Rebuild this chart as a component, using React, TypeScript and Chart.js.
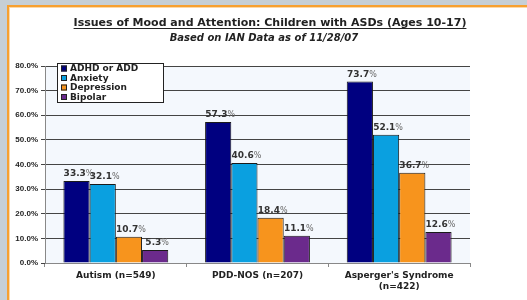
import React, { useEffect, useRef } from 'react';
import { Chart, registerables } from 'chart.js';
Chart.register(...registerables);

const titleText = 'Issues of Mood and Attention: Children with ASDs (Ages 10-17)';
const subtitleText = 'Based on IAN Data as of 11/28/07';
const categories: string[][] = [['Autism (n=549)'], ['PDD-NOS (n=207)'], ["Asperger's Syndrome", '(n=422)']];
const seriesNames = ['ADHD or ADD', 'Anxiety', 'Depression', 'Bipolar'];
const adhd = [33.3, 57.3, 73.7];
const anxiety = [32.1, 40.6, 52.1];
const depression = [10.7, 18.4, 36.7];
const bipolar = [5.3, 11.1, 12.6];
const seriesColors = ['#000080', '#0aa0e0', '#f7941d', '#6b2a8c'];
const yMin = 0;
const yMax = 80;
const yStep = 10;

const FONT = '"Liberation Sans", Arial, sans-serif';
const WIDE = '"DejaVu Sans", Verdana, sans-serif';

const framePlugin = {
  id: 'frame',
  beforeDraw(chart: any) {
    const { ctx, width, height, chartArea } = chart;
    ctx.save();
    ctx.fillStyle = '#ffffff';
    ctx.fillRect(0, 0, width, height);
    ctx.fillStyle = '#c6cfd6';
    ctx.fillRect(0, 0, width, 5);
    ctx.fillRect(0, 0, 7, height);
    ctx.fillStyle = '#f7a030';
    ctx.fillRect(7, 5, width - 7, 2);
    ctx.fillRect(7, 5, 2, height - 5);
    ctx.fillStyle = '#fcd8a8';
    ctx.fillRect(9, 7, width - 9, 1);
    ctx.fillRect(9, 7, 1, height - 7);
    ctx.fillStyle = '#f4f8fd';
    ctx.fillRect(chartArea.left, chartArea.top, chartArea.right - chartArea.left, chartArea.bottom - chartArea.top);
    ctx.restore();
  },
  afterDraw(chart: any) {
    const { ctx } = chart;
    ctx.save();
    // title
    ctx.fillStyle = '#222';
    ctx.textAlign = 'center';
    ctx.textBaseline = 'alphabetic';
    ctx.font = `bold 11px ${WIDE}`;
    const tx = 270;
    ctx.fillText(titleText, tx, 26);
    const tw = ctx.measureText(titleText).width;
    ctx.fillRect(tx - tw / 2, 28, tw, 1);
    ctx.font = `italic bold 10px ${WIDE}`;
    ctx.fillText(subtitleText, 264, 41);

    // legend
    const lx = 57, ly = 63, lw = 106, lh = 39;
    ctx.fillStyle = '#ffffff';
    ctx.fillRect(lx, ly, lw, lh);
    ctx.strokeStyle = '#222';
    ctx.lineWidth = 1;
    ctx.strokeRect(lx + 0.5, ly + 0.5, lw, lh);
    ctx.textAlign = 'left';
    ctx.textBaseline = 'middle';
    ctx.font = `bold 9px ${WIDE}`;
    seriesNames.forEach((name, i) => {
      const cy = ly + 5.5 + i * 9.5;
      ctx.fillStyle = seriesColors[i];
      ctx.fillRect(lx + 4, cy - 3, 6, 6);
      ctx.strokeStyle = '#222';
      ctx.strokeRect(lx + 4.5, cy - 2.5, 5, 5);
      ctx.fillStyle = '#222';
      ctx.fillText(name, lx + 13, cy + 0.5);
    });

    // data labels
    ctx.textBaseline = 'alphabetic';
    chart.data.datasets.forEach((ds: any, di: number) => {
      const meta = chart.getDatasetMeta(di);
      meta.data.forEach((el: any, i: number) => {
        const v = ds.data[i];
        const num = v.toFixed(1);
        ctx.font = `bold 9px ${WIDE}`;
        const nw = ctx.measureText(num).width;
        ctx.font = `8px ${WIDE}`;
        const pw = ctx.measureText('%').width;
        const total = nw + pw;
        const x0 = el.x + 2 - total / 2;
        const y0 = el.y - 5;
        ctx.textAlign = 'left';
        ctx.font = `bold 9px ${WIDE}`;
        ctx.fillStyle = '#333';
        ctx.fillText(num, x0, y0);
        ctx.font = `8px ${WIDE}`;
        ctx.fillStyle = '#666';
        ctx.fillText('%', x0 + nw, y0);
      });
    });
    ctx.restore();
  },
};

export default function App() {
  const ref = useRef<HTMLCanvasElement>(null);
  useEffect(() => {
    document.body.style.margin = '0';
    const seriesData = [adhd, anxiety, depression, bipolar];
    const chart = new Chart(ref.current!, {
      type: 'bar',
      data: {
        labels: categories,
        datasets: seriesNames.map((name, i) => ({
          label: name,
          data: seriesData[i],
          backgroundColor: seriesColors[i],
          borderColor: '#1a1a1a',
          borderWidth: 1,
          categoryPercentage: 0.74,
          barPercentage: 1.0,
        })),
      },
      options: {
        responsive: false,
        animation: false,
        layout: { padding: { top: 66, right: 57, left: 0, bottom: 0 } },
        plugins: {
          legend: { display: false },
          title: { display: false },
          tooltip: { enabled: false },
        },
        scales: {
          x: {
            grid: { display: true, drawOnChartArea: false, drawTicks: true, tickLength: 4, offset: true, color: '#888' },
            border: { display: true, color: '#888' },
            ticks: {
              color: '#222',
              font: { family: WIDE, size: 9, weight: 'bold' },
              padding: 3,
              maxRotation: 0,
            },
            afterFit(scale: any) { scale.height = 37; },
          },
          y: {
            min: yMin,
            max: yMax,
            grid: { color: '#444', lineWidth: 1, tickLength: 4, drawTicks: true },
            border: { display: true, color: '#888' },
            ticks: {
              stepSize: yStep,
              color: '#222',
              font: { family: FONT, size: 8, weight: 'bold' },
              padding: 3,
              callback: (v: any) => Number(v).toFixed(1) + '%',
            },
            afterFit(scale: any) { scale.width = 45; },
          },
        },
      },
      plugins: [framePlugin],
    });
    return () => chart.destroy();
  }, []);
  return <canvas ref={ref} width={527} height={300} style={{ display: 'block' }} />;
}
